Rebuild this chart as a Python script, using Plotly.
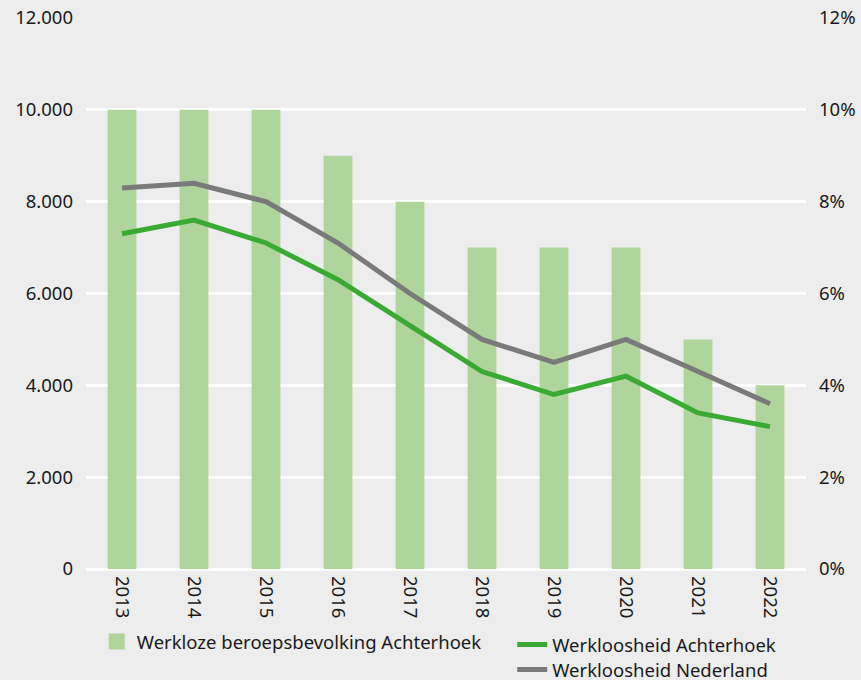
import plotly.graph_objects as go

years = ["2013", "2014", "2015", "2016", "2017", "2018", "2019", "2020", "2021", "2022"]
werkloze_achterhoek = [10000, 10000, 10000, 9000, 8000, 7000, 7000, 7000, 5000, 4000]
pct_achterhoek = [7.3, 7.6, 7.1, 6.3, 5.3, 4.3, 3.8, 4.2, 3.4, 3.1]
pct_nederland = [8.3, 8.4, 8.0, 7.1, 6.0, 5.0, 4.5, 5.0, 4.3, 3.6]

left_ticks = [0, 2000, 4000, 6000, 8000, 10000, 12000]
right_ticks = [0, 2, 4, 6, 8, 10, 12]
right_labels = ["0%", "2%", "4%", "6%", "8%", "10%", "12%"]

FONT = "Noto Sans"
bg = "#ededed"
FS = 18.5
BAR_COLOR = "#b0d59c"

fig = go.Figure()
fig.add_trace(go.Bar(
    x=years, y=werkloze_achterhoek, name="Werkloze beroepsbevolking Achterhoek",
    marker=dict(color=BAR_COLOR, line=dict(width=0)), width=0.4, showlegend=False,
))
# legend entry for the bars (larger square swatch)
fig.add_trace(go.Scatter(
    x=[years[0]], y=[None], name="Werkloze beroepsbevolking Achterhoek", mode="markers",
    marker=dict(symbol="square", size=20, color=BAR_COLOR), legend="legend",
    hoverinfo="skip",
))
fig.add_trace(go.Scatter(
    x=years, y=pct_achterhoek, name="Werkloosheid Achterhoek", yaxis="y2",
    mode="lines", line=dict(color="#3aaa35", width=5), legend="legend2",
))
fig.add_trace(go.Scatter(
    x=years, y=pct_nederland, name="Werkloosheid Nederland", yaxis="y2",
    mode="lines", line=dict(color="#7a7a7a", width=5), legend="legend3",
))

leg_common = dict(xanchor="left", yanchor="middle", bgcolor="rgba(0,0,0,0)",
                  font=dict(size=FS), itemwidth=30)

fig.update_layout(
    width=861, height=680,
    paper_bgcolor=bg, plot_bgcolor=bg,
    font=dict(family=FONT, size=FS, color="#1a1a1a"),
    separators=",.",
    margin=dict(l=86, r=55, t=18, b=111, autoexpand=False),
    xaxis=dict(tickangle=90, showgrid=False, showline=False, zeroline=False,
               ticks="", ticklabelstandoff=6, range=[-0.5, len(years) - 0.5]),
    yaxis=dict(range=[0, 12000], tickvals=left_ticks, tickformat=",d",
               showgrid=True, gridcolor="white", gridwidth=3,
               zeroline=True, zerolinecolor="white", zerolinewidth=3,
               ticks="", ticklabelstandoff=12),
    yaxis2=dict(range=[0, 12], tickvals=right_ticks, ticktext=right_labels,
                overlaying="y", side="right", showgrid=False, zeroline=False,
                ticks="", ticklabelstandoff=12),
    showlegend=True,
    legend=dict(x=0.015, y=-(642 - 569) / 551, itemsizing="trace", **leg_common),
    legend2=dict(x=0.592, y=-(645 - 569) / 551, **leg_common),
    legend3=dict(x=0.592, y=-(670 - 569) / 551, **leg_common),
    bargap=0.6,
)

fig.write_html("out.html", config={"displayModeBar": False},
               post_script="document.body.style.margin='0';document.body.style.overflow='hidden';")
